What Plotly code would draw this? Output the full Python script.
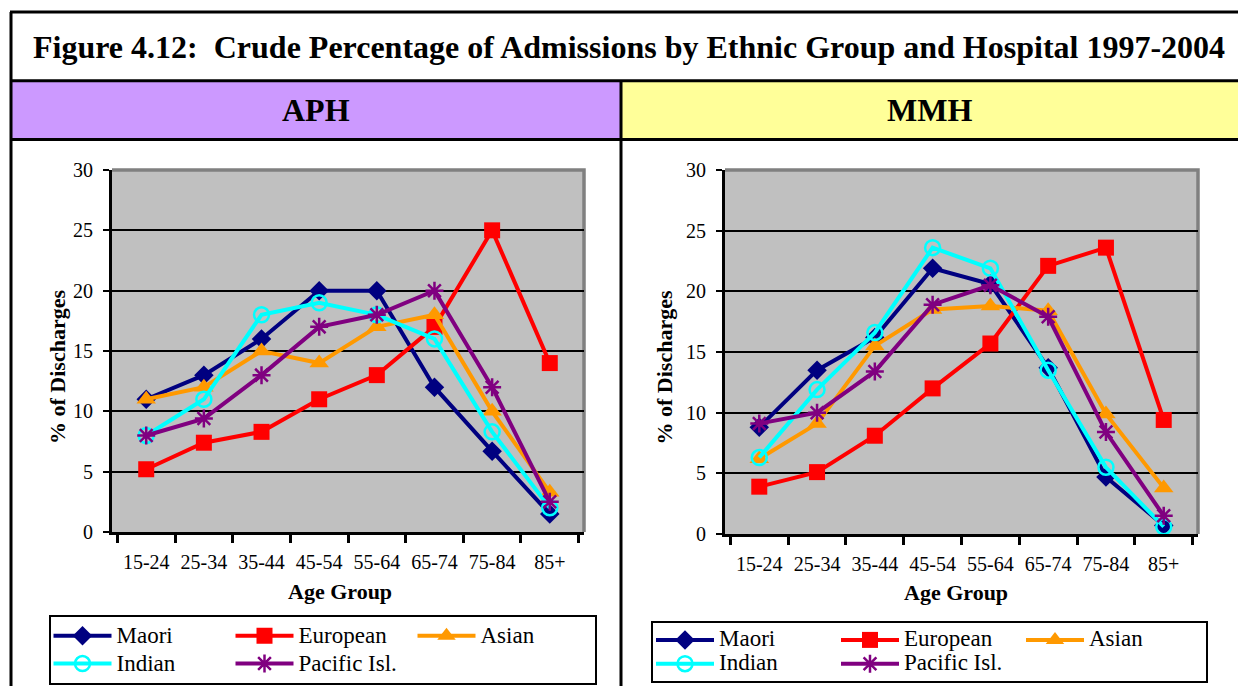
import plotly.graph_objects as go

W, H = 1238, 686
FONT = "Liberation Serif, Times New Roman, serif"

age_groups = ["15-24", "25-34", "35-44", "45-54", "55-64", "65-74", "75-84", "85+"]
series_names = ["Maori", "European", "Asian", "Indian", "Pacific Isl."]
series_colors = ["#000080", "#FF0000", "#FF9900", "#00FFFF", "#800080"]

# APH (left panel)
aph_maori = [11.0, 13.0, 16.0, 20.0, 20.0, 12.0, 6.7, 1.5]
aph_european = [5.2, 7.4, 8.3, 11.0, 13.0, 17.0, 25.0, 14.0]
aph_asian = [11.0, 12.0, 15.0, 14.0, 17.0, 18.0, 10.0, 3.3]
aph_indian = [8.0, 11.0, 18.0, 19.0, 18.0, 16.0, 8.3, 2.0]
aph_pacific = [8.0, 9.4, 13.0, 17.0, 18.0, 20.0, 12.0, 2.5]

# MMH (right panel)
mmh_maori = [8.8, 13.5, 16.2, 21.9, 20.6, 13.7, 4.7, 0.7]
mmh_european = [3.9, 5.1, 8.1, 12.0, 15.7, 22.1, 23.6, 9.4]
mmh_asian = [6.2, 9.1, 15.5, 18.5, 18.8, 18.4, 9.9, 3.8]
mmh_indian = [6.3, 11.9, 16.6, 23.6, 21.9, 13.5, 5.5, 0.6]
mmh_pacific = [9.1, 10.0, 13.4, 18.9, 20.5, 17.9, 8.4, 1.5]

title_text = "Figure 4.12:  Crude Percentage of Admissions by Ethnic Group and Hospital 1997-2004"
panel_titles = ["APH", "MMH"]
x_title = "Age Group"
y_title = "% of Discharges"


def px(x):
    return x / W


def py(y):
    return 1 - y / H


markers = [
    dict(symbol="diamond", size=15),
    dict(symbol="square", size=16),
    dict(symbol="triangle-up", size=17),
    dict(symbol="circle-open", size=15, line=dict(width=2.5)),
    dict(symbol="asterisk-open", size=15, line=dict(width=2.5)),
]
groups = ["g1", "g2", "g3", "g1", "g2"]

fig = go.Figure()

panels = [
    (["x", "y", "legend", "L"], [aph_maori, aph_european, aph_asian, aph_indian, aph_pacific]),
    (["x2", "y2", "legend2", "R"], [mmh_maori, mmh_european, mmh_asian, mmh_indian, mmh_pacific]),
]
for (xa, ya, lg, pre), data in panels:
    for i, vals in enumerate(data):
        m = dict(markers[i])
        m["color"] = series_colors[i]
        if "line" in m:
            m["line"] = dict(m["line"], color=series_colors[i])
        fig.add_trace(go.Scatter(
            x=age_groups, y=vals,
            name='<span style="font-size:23px">' + series_names[i] + "</span>",
            hovertemplate="%{x}: %{y}<extra>" + series_names[i] + "</extra>",
            mode="lines+markers",
            line=dict(color=series_colors[i], width=4), marker=m,
            xaxis=xa, yaxis=ya, legend=lg, legendgroup=pre + groups[i],
            cliponaxis=False,
        ))

plot_boxes = [
    (112, 584, 170, 532),
    (725, 1198, 170, 534),
]

axis_common_x = dict(
    type="category", categoryorder="array", categoryarray=age_groups,
    showline=True, linecolor="black", linewidth=3,
    ticks="outside", tickson="boundaries", ticklen=8, tickwidth=3, tickcolor="black",
    showgrid=False, zeroline=False, tickangle=0,
    tickfont=dict(family=FONT, size=20, color="black"),
    ticklabelstandoff=10,
)
axis_common_y = dict(
    range=[0, 30], dtick=5, tick0=0,
    showline=True, linecolor="black", linewidth=3,
    ticks="outside", ticklen=6, tickwidth=2, tickcolor="black",
    showgrid=True, gridcolor="black", gridwidth=2, zeroline=False,
    tickfont=dict(family=FONT, size=20, color="black"),
    ticklabelstandoff=6,
)

shapes = []
annotations = []

# header backgrounds
shapes.append(dict(type="rect", xref="paper", yref="paper", x0=px(11), x1=px(621),
                   y0=py(139.5), y1=py(80.7), fillcolor="#CC99FF", line=dict(width=0), layer="below"))
shapes.append(dict(type="rect", xref="paper", yref="paper", x0=px(621), x1=px(1240),
                   y0=py(139.5), y1=py(80.7), fillcolor="#FFFF99", line=dict(width=0), layer="below"))
# frame lines
for yline in (12, 80.7, 139.5):
    shapes.append(dict(type="line", xref="paper", yref="paper", x0=px(10), x1=px(1240),
                       y0=py(yline), y1=py(yline), line=dict(color="black", width=3)))
shapes.append(dict(type="line", xref="paper", yref="paper", x0=px(11), x1=px(11),
                   y0=py(12), y1=py(690), line=dict(color="black", width=3)))
shapes.append(dict(type="line", xref="paper", yref="paper", x0=px(621), x1=px(621),
                   y0=py(80.7), y1=py(690), line=dict(color="black", width=3)))

for k, (x0, x1, y0, y1) in enumerate(plot_boxes):
    suffix = "" if k == 0 else str(k + 1)
    fig.update_layout(**{
        "xaxis" + suffix: dict(axis_common_x, domain=[px(x0), px(x1)], anchor="y" + suffix),
        "yaxis" + suffix: dict(axis_common_y, domain=[py(y1), py(y0)], anchor="x" + suffix),
    })
    # gray top/right border of plot area
    shapes.append(dict(type="path", xref="paper", yref="paper",
                       path=f"M {px(x0)},{py(y0)} L {px(x1)},{py(y0)} L {px(x1)},{py(y1)}",
                       line=dict(color="#808080", width=3.5), layer="below"))

# text
annotations.append(dict(text="<b>" + title_text + "</b>", x=px(628.5), y=py(47), xref="paper", yref="paper",
                        showarrow=False, xanchor="center", yanchor="middle",
                        font=dict(family=FONT, size=32, color="black")))
for t, cx in zip(panel_titles, (316, 929.5)):
    annotations.append(dict(text="<b>" + t + "</b>", x=px(cx), y=py(110), xref="paper", yref="paper",
                            showarrow=False, xanchor="center", yanchor="middle",
                            font=dict(family=FONT, size=32, color="black")))
for cx, cy in ((340, 591.5), (956, 592.5)):
    annotations.append(dict(text="<b>" + x_title + "</b>", x=px(cx), y=py(cy), xref="paper", yref="paper",
                            showarrow=False, xanchor="center", yanchor="middle",
                            font=dict(family=FONT, size=22, color="black")))
for cx, cy in ((57, 367), (663.5, 368)):
    annotations.append(dict(text="<b>" + y_title + "</b>", x=px(cx), y=py(cy), xref="paper", yref="paper",
                            showarrow=False, xanchor="center", yanchor="middle", textangle=-90,
                            font=dict(family=FONT, size=22, color="black")))

legend_common = dict(
    orientation="h", traceorder="grouped", itemwidth=58,
    bgcolor="white", bordercolor="black", borderwidth=2,
    xanchor="left", yanchor="top", tracegroupgap=0,
    entrywidthmode="pixels",
)

fig.update_layout(
    width=W, height=H, autosize=False,
    margin=dict(l=0, r=0, t=0, b=0, pad=0, autoexpand=False),
    paper_bgcolor="white", plot_bgcolor="#C0C0C0",
    showlegend=True,
    legend=dict(legend_common, x=px(48.5), y=py(615), entrywidth=109,
                font=dict(family=FONT, size=19, color="black")),
    legend2=dict(legend_common, x=px(651), y=py(621), entrywidth=112,
                 font=dict(family=FONT, size=16, color="black")),
    shapes=shapes, annotations=annotations,
    font=dict(family=FONT, color="black"),
)

fig.write_html("out.html", config={"displayModeBar": False},
               post_script="document.body.style.margin='0';")
